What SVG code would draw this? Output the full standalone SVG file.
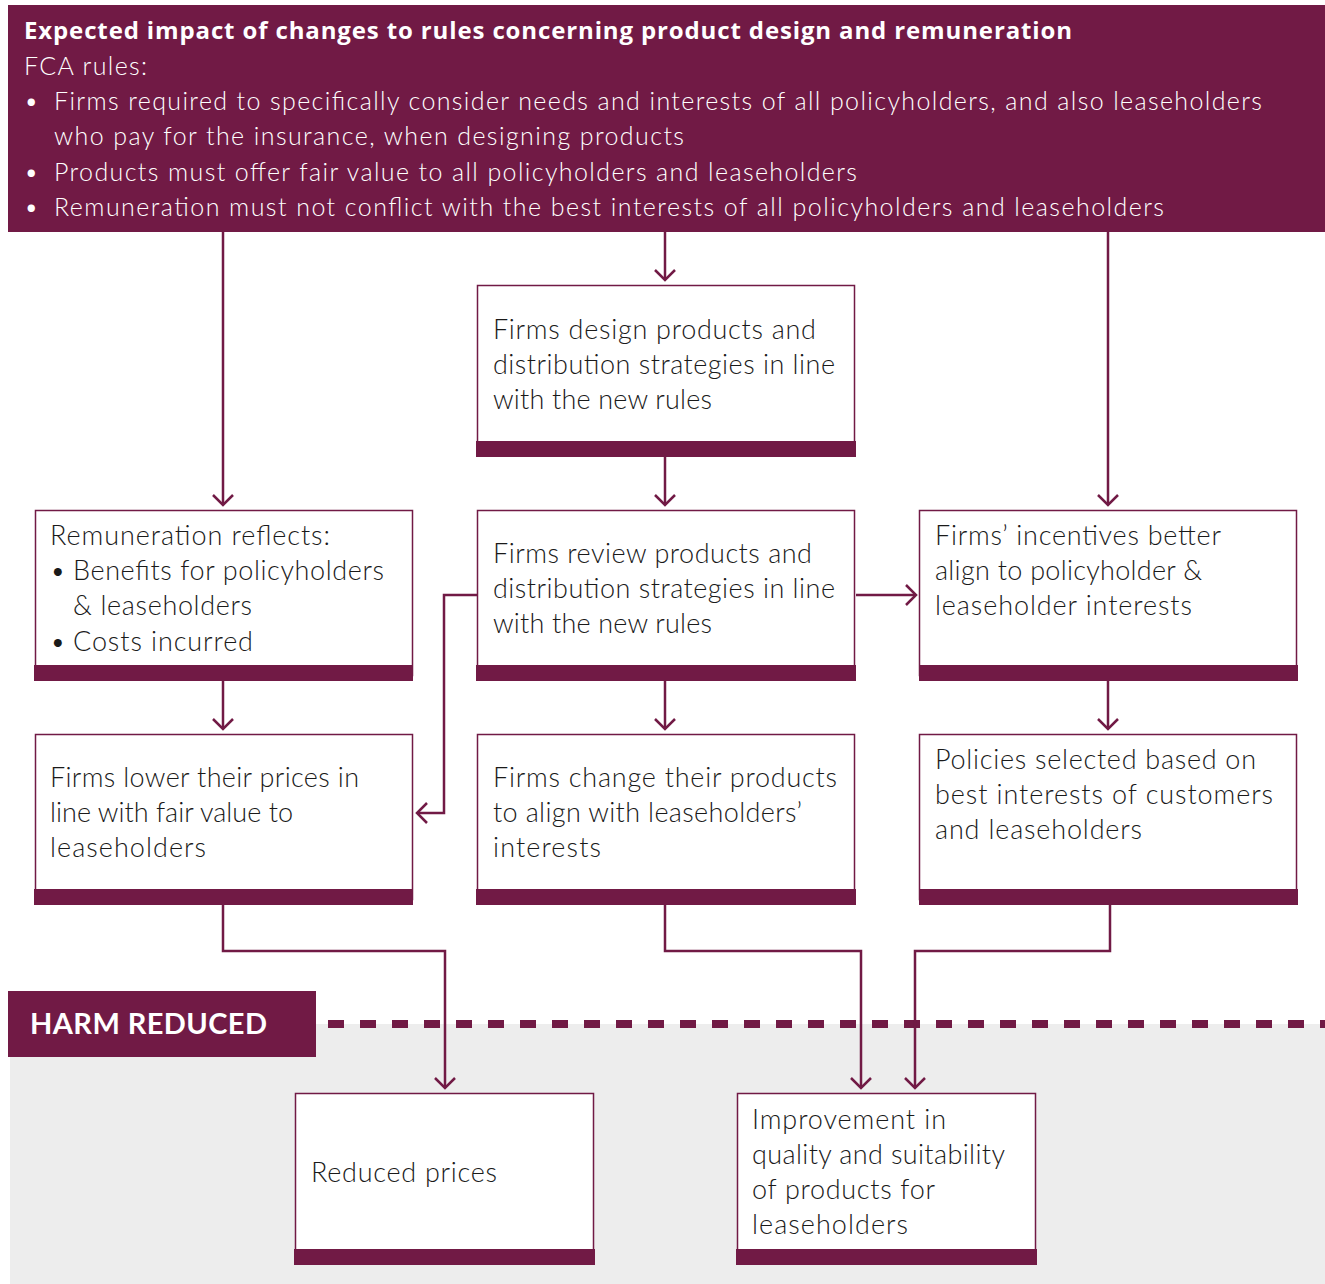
<svg xmlns="http://www.w3.org/2000/svg" width="1325" height="1284" viewBox="0 0 1325 1284">
<style>
.hdr{fill:#711a45}
.box{fill:#fff;stroke:#711a45;stroke-width:1.5}
.bar{fill:#711a45}
.t{font-family:Lato,"Liberation Sans",sans-serif;font-size:27px;font-weight:300;fill:#1a1a1a}
.ht{font-family:Lato,"Liberation Sans",sans-serif;font-size:25px;font-weight:300;fill:#fff}
.htb{font-family:"Open Sans","Liberation Sans",sans-serif;font-size:24px;font-weight:700;fill:#fff}
.harm{font-family:Lato,"Liberation Sans",sans-serif;font-size:29px;font-weight:700;fill:#fff}
.c{fill:none;stroke:#711a45;stroke-width:2.5}
</style>
<defs>
<marker id="ah" markerUnits="userSpaceOnUse" viewBox="-15 -15 30 30" markerWidth="30" markerHeight="30" refX="0" refY="0" orient="auto" overflow="visible">
<path d="M-10,-10 L0,0 L-10,10" fill="none" stroke="#711a45" stroke-width="2.5"/>
</marker>
</defs>
<rect x="10" y="1024" width="1315" height="260" fill="#ededed"/>
<g id="header">
<rect class="hdr" x="8" y="5" width="1317" height="227"/>
<text class="htb" x="24" y="39" textLength="1048">Expected impact of changes to rules concerning product design and remuneration</text>
<text class="ht" x="24" y="75" textLength="123">FCA rules:</text>
<text class="ht" x="24" y="110">•</text>
<text class="ht" x="54" y="110" textLength="1208">Firms required to specifically consider needs and interests of all policyholders, and also leaseholders</text>
<text class="ht" x="54" y="145" textLength="630">who pay for the insurance, when designing products</text>
<text class="ht" x="24" y="181">•</text>
<text class="ht" x="54" y="181" textLength="803">Products must offer fair value to all policyholders and leaseholders</text>
<text class="ht" x="24" y="216">•</text>
<text class="ht" x="54" y="216" textLength="1110">Remuneration must not conflict with the best interests of all policyholders and leaseholders</text>
</g>
<g id="harm-reduced">
<rect class="hdr" x="8" y="991" width="308" height="66"/>
<text class="harm" x="30" y="1034" textLength="237">HARM REDUCED</text>
<line x1="328" y1="1024" x2="1325" y2="1024" stroke="#711a45" stroke-width="8" stroke-dasharray="16 16"/>
</g>
<g id="connectors">
<path class="c" d="M223,232 V505" marker-end="url(#ah)"/>
<path class="c" d="M665,232 V280" marker-end="url(#ah)"/>
<path class="c" d="M1108,232 V505" marker-end="url(#ah)"/>
<path class="c" d="M665,457 V505" marker-end="url(#ah)"/>
<path class="c" d="M856,595 H916" marker-end="url(#ah)"/>
<path class="c" d="M477,595 H444 V813 H417" marker-end="url(#ah)"/>
<path class="c" d="M223,681 V729" marker-end="url(#ah)"/>
<path class="c" d="M665,681 V729" marker-end="url(#ah)"/>
<path class="c" d="M1108,681 V729" marker-end="url(#ah)"/>
<path class="c" d="M223,905 V951 H445 V1088" marker-end="url(#ah)"/>
<path class="c" d="M665,905 V951 H861 V1088" marker-end="url(#ah)"/>
<path class="c" d="M1110,905 V951 H915 V1088" marker-end="url(#ah)"/>
</g>
<g id="design">
<rect class="box" x="477.5" y="285.5" width="377" height="165"/>
<rect class="bar" x="476" y="441" width="380" height="16"/>
<text class="t" x="493" y="339" textLength="323">Firms design products and</text>
<text class="t" x="493" y="374" textLength="342">distribution strategies in line</text>
<text class="t" x="493" y="409" textLength="219">with the new rules</text>
</g>
<g id="remuneration">
<rect class="box" x="35.5" y="510.5" width="377" height="165"/>
<rect class="bar" x="34" y="665" width="379" height="16"/>
<text class="t" x="50" y="545" textLength="280">Remuneration reflects:</text>
<text class="t" x="50" y="580">•</text>
<text class="t" x="73" y="580" textLength="311">Benefits for policyholders</text>
<text class="t" x="73" y="615" textLength="179">&amp; leaseholders</text>
<text class="t" x="50" y="651">•</text>
<text class="t" x="73" y="651" textLength="180">Costs incurred</text>
</g>
<g id="review">
<rect class="box" x="477.5" y="510.5" width="377" height="165"/>
<rect class="bar" x="476" y="665" width="380" height="16"/>
<text class="t" x="493" y="563" textLength="319">Firms review products and</text>
<text class="t" x="493" y="598" textLength="342">distribution strategies in line</text>
<text class="t" x="493" y="633" textLength="219">with the new rules</text>
</g>
<g id="incentives">
<rect class="box" x="919.5" y="510.5" width="377" height="165"/>
<rect class="bar" x="919" y="665" width="379" height="16"/>
<text class="t" x="935" y="545" textLength="286">Firms’ incentives better</text>
<text class="t" x="935" y="580" textLength="267">align to policyholder &amp;</text>
<text class="t" x="935" y="615" textLength="257">leaseholder interests</text>
</g>
<g id="lower-prices">
<rect class="box" x="35.5" y="734.5" width="377" height="165"/>
<rect class="bar" x="34" y="889" width="379" height="16"/>
<text class="t" x="50" y="787" textLength="309">Firms lower their prices in</text>
<text class="t" x="50" y="822" textLength="243">line with fair value to</text>
<text class="t" x="50" y="857" textLength="156">leaseholders</text>
</g>
<g id="change">
<rect class="box" x="477.5" y="734.5" width="377" height="165"/>
<rect class="bar" x="476" y="889" width="380" height="16"/>
<text class="t" x="493" y="787" textLength="344">Firms change their products</text>
<text class="t" x="493" y="822" textLength="309">to align with leaseholders’</text>
<text class="t" x="493" y="857" textLength="108">interests</text>
</g>
<g id="policies">
<rect class="box" x="919.5" y="734.5" width="377" height="165"/>
<rect class="bar" x="919" y="889" width="379" height="16"/>
<text class="t" x="935" y="769" textLength="321">Policies selected based on</text>
<text class="t" x="935" y="804" textLength="338">best interests of customers</text>
<text class="t" x="935" y="839" textLength="207">and leaseholders</text>
</g>
<g id="reduced-prices">
<rect class="box" x="295.5" y="1093.5" width="298" height="165"/>
<rect class="bar" x="294" y="1249" width="301" height="16"/>
<text class="t" x="311" y="1182" textLength="186">Reduced prices</text>
</g>
<g id="improvement">
<rect class="box" x="737.5" y="1093.5" width="298" height="165"/>
<rect class="bar" x="736" y="1249" width="301" height="16"/>
<text class="t" x="752" y="1129" textLength="194">Improvement in</text>
<text class="t" x="752" y="1164" textLength="253">quality and suitability</text>
<text class="t" x="752" y="1199" textLength="183">of products for</text>
<text class="t" x="752" y="1234" textLength="156">leaseholders</text>
</g>
</svg>
